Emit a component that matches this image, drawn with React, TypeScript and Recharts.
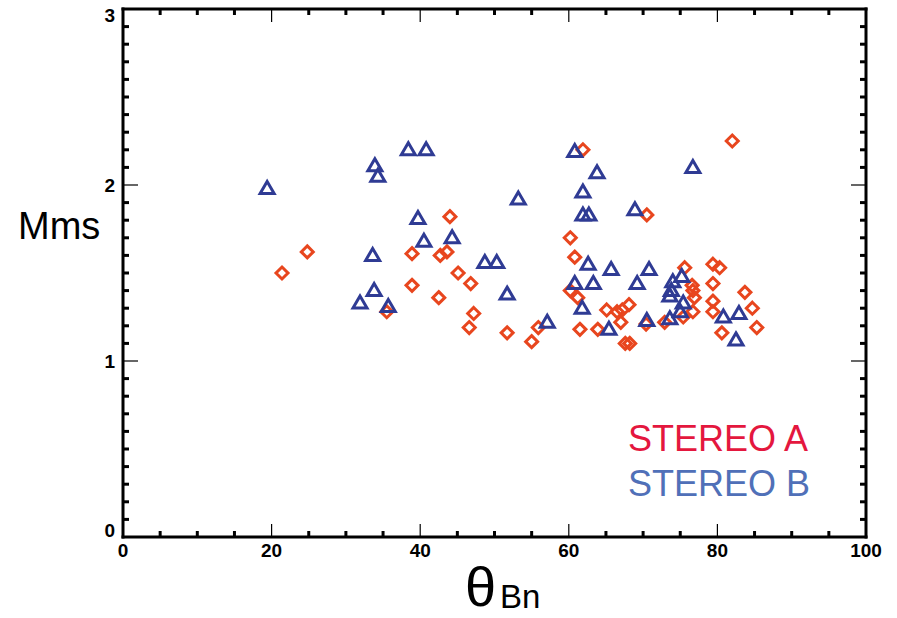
import React from "react";
import { ScatterChart, Scatter, XAxis, YAxis } from "recharts";

// STEREO A shocks (theta_Bn in deg, Mms)
const stereoA = [
	[21.4, 1.5], [24.8, 1.62], [35.5, 1.28], [38.9, 1.61], [38.9, 1.43],
	[42.5, 1.36], [42.7, 1.6], [43.6, 1.62], [44.0, 1.82], [45.1, 1.5],
	[46.8, 1.44], [47.2, 1.27], [46.6, 1.19], [51.7, 1.16], [55.0, 1.11],
	[55.9, 1.19], [60.2, 1.7], [60.8, 1.59], [60.2, 1.4], [61.2, 1.36],
	[61.5, 1.18], [61.9, 2.2], [63.9, 1.18], [65.1, 1.29], [66.5, 1.28],
	[67.2, 1.29], [68.1, 1.32], [67.0, 1.22], [67.6, 1.1], [68.2, 1.1],
	[70.5, 1.83], [70.4, 1.21], [72.9, 1.22], [75.4, 1.25], [75.6, 1.53],
	[76.6, 1.43], [76.7, 1.4], [76.9, 1.36], [76.7, 1.28], [79.4, 1.55],
	[80.3, 1.53], [79.4, 1.44], [79.4, 1.34], [79.4, 1.28], [80.6, 1.16],
	[82.0, 2.25], [83.7, 1.39], [84.7, 1.3], [85.3, 1.19]
];

// STEREO B shocks
const stereoB = [
	[19.4, 1.98], [33.9, 2.11], [34.3, 2.05], [38.4, 2.2], [40.8, 2.2],
	[39.7, 1.81], [40.5, 1.68], [44.3, 1.7], [33.6, 1.6], [33.8, 1.4],
	[31.9, 1.33], [35.7, 1.31], [48.7, 1.56], [50.3, 1.56], [51.7, 1.38],
	[53.2, 1.92], [60.8, 2.19], [63.8, 2.07], [61.9, 1.96], [61.9, 1.83],
	[62.7, 1.83], [68.9, 1.86], [62.6, 1.55], [65.7, 1.52], [70.8, 1.52],
	[60.8, 1.44], [63.3, 1.44], [69.2, 1.44], [61.8, 1.3], [57.1, 1.22],
	[65.4, 1.18], [70.5, 1.23], [76.7, 2.1], [74.0, 1.45], [75.2, 1.48],
	[73.8, 1.4], [73.6, 1.37], [75.4, 1.33], [75.0, 1.28], [73.6, 1.24],
	[80.8, 1.25], [82.9, 1.27], [82.5, 1.12]
];

const xLabels = [0, 20, 40, 60, 80, 100];
const yLabels = [0, 1, 2, 3];
const xTicks = Array.from({ length: 21 }, (_, i) => i * 5);
const yTicks = Array.from({ length: 31 }, (_, i) => i / 10);

const toPoints = (rows: number[][]) => rows.map(([x, y]) => ({ x, y }));

const RED = "#e8461e";
const BLUE = "#2f3b94";
const FONT = "'Liberation Sans', Arial, sans-serif";

const isMajorY = (v: number) => yLabels.some((l) => Math.abs(l - v) < 1e-6);

const Diamond = (p: any) => {
	const { cx, cy } = p;
	const r = 6;
	return (
		<path
			d={`M${cx},${cy - r}L${cx + r},${cy}L${cx},${cy + r}L${cx - r},${cy}Z`}
			fill="none"
			stroke={RED}
			strokeWidth={3}
		/>
	);
};

const Triangle = (p: any) => {
	const { cx, cy } = p;
	return (
		<path
			d={`M${cx},${cy - 7}L${cx + 7},${cy + 5}L${cx - 7},${cy + 5}Z`}
			fill="none"
			stroke={BLUE}
			strokeWidth={3}
		/>
	);
};

const bottomTick = (p: any) => {
	const v = p.payload.value;
	const major = xLabels.includes(v);
	return (
		<g>
			<line x1={p.x} x2={p.x} y1={p.y} y2={p.y - (major ? 13 : 6)} stroke="#000" strokeWidth={major ? 1.2 : 3} />
			{major && (
				<text x={p.x} y={p.y + 20} textAnchor="middle" fontFamily={FONT} fontWeight="bold" fontSize={19} fill="#000">
					{v}
				</text>
			)}
		</g>
	);
};

const topTick = (p: any) => {
	const major = xLabels.includes(p.payload.value);
	return (
		<line x1={p.x} x2={p.x} y1={p.y} y2={p.y + (major ? 13 : 6)} stroke="#000" strokeWidth={major ? 1.2 : 3} />
	);
};

const leftTick = (p: any) => {
	const v = p.payload.value;
	const major = isMajorY(v);
	let dy = 7;
	if (major && Math.round(v) === 0) dy = 0;
	if (major && Math.round(v) === 3) dy = 13;
	return (
		<g>
			<line x1={p.x} x2={p.x + (major ? 15 : 6)} y1={p.y} y2={p.y} stroke="#000" strokeWidth={major ? 1.2 : 3} />
			{major && (
				<text x={p.x - 8} y={p.y + dy} textAnchor="end" fontFamily={FONT} fontWeight="bold" fontSize={19} fill="#000">
					{Math.round(v)}
				</text>
			)}
		</g>
	);
};

const rightTick = (p: any) => {
	const major = isMajorY(p.payload.value);
	return (
		<line x1={p.x} x2={p.x - (major ? 15 : 6)} y1={p.y} y2={p.y} stroke="#000" strokeWidth={major ? 1.2 : 3} />
	);
};

const axisLine = { stroke: "#000", strokeWidth: 3, strokeLinecap: "square" as const };

export default function App() {
	return (
		<div style={{ position: "absolute", left: 0, top: 0, width: 897, height: 618, background: "#fff" }}>
			<ScatterChart width={897} height={618} margin={{ top: 8, right: 30, bottom: 0, left: 0 }}>
				<XAxis
					xAxisId="b"
					type="number"
					dataKey="x"
					domain={[0, 100]}
					ticks={xTicks}
					interval={0}
					height={81}
					tickSize={0}
					tickMargin={0}
					tickLine={false}
					axisLine={axisLine}
					tick={bottomTick}
					allowDataOverflow
				/>
				<XAxis
					xAxisId="t"
					orientation="top"
					type="number"
					dataKey="x"
					domain={[0, 100]}
					ticks={xTicks}
					interval={0}
					height={1}
					tickSize={0}
					tickMargin={0}
					tickLine={false}
					axisLine={axisLine}
					tick={topTick}
					allowDataOverflow
				/>
				<YAxis
					yAxisId="l"
					type="number"
					dataKey="y"
					domain={[0, 3]}
					ticks={yTicks}
					interval={0}
					width={123}
					tickSize={0}
					tickMargin={0}
					tickLine={false}
					axisLine={axisLine}
					tick={leftTick}
					allowDataOverflow
				/>
				<YAxis
					yAxisId="r"
					orientation="right"
					type="number"
					dataKey="y"
					domain={[0, 3]}
					ticks={yTicks}
					interval={0}
					width={1}
					tickSize={0}
					tickMargin={0}
					tickLine={false}
					axisLine={axisLine}
					tick={rightTick}
					allowDataOverflow
				/>
				<Scatter xAxisId="b" yAxisId="l" data={toPoints(stereoA)} shape={Diamond} isAnimationActive={false} />
				<Scatter xAxisId="b" yAxisId="l" data={toPoints(stereoB)} shape={Triangle} isAnimationActive={false} />
				<Scatter xAxisId="t" yAxisId="r" data={[]} isAnimationActive={false} />
			</ScatterChart>
			<svg width={897} height={618} style={{ position: "absolute", left: 0, top: 0, pointerEvents: "none" }}>
				<text x={18} y={239} fontFamily={FONT} fontSize={38} fill="#000">Mms</text>
				<text x={465} y={606} fontFamily={FONT} fontSize={56} fill="#000">θ</text>
				<text x={500} y={608} fontFamily={FONT} fontSize={33} fill="#000">Bn</text>
				<text x={628} y={451} fontFamily={FONT} fontSize={36} fill="#e4173e">STEREO A</text>
				<text x={628} y={496} fontFamily={FONT} fontSize={36} fill="#5070b8">STEREO B</text>
			</svg>
		</div>
	);
}
